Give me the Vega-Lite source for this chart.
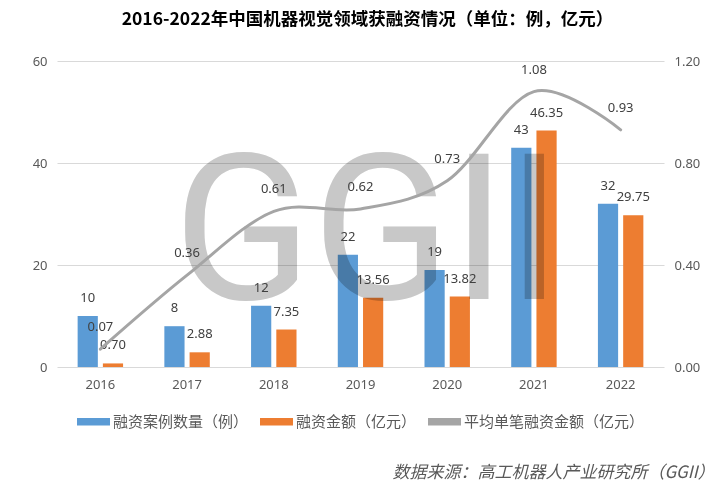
{
  "$schema": "https://vega.github.io/schema/vega-lite/v6.json",
  "background": "white",
  "padding": {"left": 32, "top": 10, "right": 14, "bottom": 5},
  "title": {
    "text": "数据来源：高工机器人产业研究所（GGII）",
    "orient": "bottom",
    "anchor": "end",
    "font": "Noto Sans CJK SC",
    "fontStyle": "italic",
    "fontSize": 17,
    "fontWeight": "normal",
    "color": "#595959",
    "offset": 35,
    "dx": 15
  },
  "datasets": {
    "deals": [
      {"year": "2016", "series": "融资案例数量（例）", "value": 10},
      {"year": "2016", "series": "融资金额（亿元）", "value": 0.70},
      {"year": "2017", "series": "融资案例数量（例）", "value": 8},
      {"year": "2017", "series": "融资金额（亿元）", "value": 2.88},
      {"year": "2018", "series": "融资案例数量（例）", "value": 12},
      {"year": "2018", "series": "融资金额（亿元）", "value": 7.35},
      {"year": "2019", "series": "融资案例数量（例）", "value": 22},
      {"year": "2019", "series": "融资金额（亿元）", "value": 13.56},
      {"year": "2020", "series": "融资案例数量（例）", "value": 19},
      {"year": "2020", "series": "融资金额（亿元）", "value": 13.82},
      {"year": "2021", "series": "融资案例数量（例）", "value": 43},
      {"year": "2021", "series": "融资金额（亿元）", "value": 46.35},
      {"year": "2022", "series": "融资案例数量（例）", "value": 32},
      {"year": "2022", "series": "融资金额（亿元）", "value": 29.75}
    ],
    "avg": [
      {"year": "2016", "avg": 0.07},
      {"year": "2017", "avg": 0.36},
      {"year": "2018", "avg": 0.61},
      {"year": "2019", "avg": 0.62},
      {"year": "2020", "avg": 0.73},
      {"year": "2021", "avg": 1.08},
      {"year": "2022", "avg": 0.93}
    ]
  },
  "vconcat": [
    {
      "width": 607,
      "height": 306,
      "title": {
        "text": "2016-2022年中国机器视觉领域获融资情况（单位：例，亿元）",
        "font": "Noto Sans CJK SC",
        "fontSize": 17.5,
        "fontWeight": "bold",
        "color": "#000000",
        "anchor": "middle",
        "offset": 27,
        "dx": 7
      },
      "layer": [
        {
          "data": {"name": "deals"},
          "layer": [
            {
              "mark": {"type": "bar"},
              "encoding": {
                "x": {"field": "year", "type": "nominal", "scale": {"paddingInner": 0.476, "paddingOuter": 0.238}, "axis": {"title": null, "labelAngle": 0}},
                "xOffset": {"field": "series", "type": "nominal", "scale": {"paddingInner": 0.2, "paddingOuter": 0}, "sort": ["融资案例数量（例）", "融资金额（亿元）"]},
                "y": {"field": "value", "type": "quantitative", "scale": {"domain": [0, 60]}, "axis": {"title": null, "values": [0, 20, 40, 60]}},
                "color": {
                  "field": "series", "type": "nominal",
                  "scale": {"domain": ["融资案例数量（例）", "融资金额（亿元）", "平均单笔融资金额（亿元）"], "range": ["#5B9BD5", "#ED7D31", "#A5A5A5"]},
                  "legend": {"title": null}
                }
              }
            },
            {
              "data": {"values": [{"t": "GGII"}]},
              "mark": {"type": "text", "font": "Roboto", "fontSize": 204, "color": "#C8C8C8", "blend": "multiply", "baseline": "alphabetic", "align": "center", "dx": 7},
              "encoding": {
                "x": {"datum": "2019", "type": "nominal"},
                "y": {"datum": 13.3, "type": "quantitative"},
                "text": {"field": "t"}
              }
            },
            {
              "transform": [{"filter": "datum.series === '融资案例数量（例）'"}],
              "mark": {"type": "text", "font": "Noto Sans", "fontSize": 13, "color": "#404040", "baseline": "middle", "dy": -18},
              "encoding": {
                "x": {"field": "year", "type": "nominal"},
                "xOffset": {"field": "series", "type": "nominal", "sort": ["融资案例数量（例）", "融资金额（亿元）"]},
                "y": {"field": "value", "type": "quantitative", "axis": {"title": null, "values": [0, 20, 40, 60]}},
                "text": {"field": "value", "type": "quantitative", "format": "d"}
              }
            },
            {
              "transform": [{"filter": "datum.series === '融资金额（亿元）'"}],
              "mark": {"type": "text", "font": "Noto Sans", "fontSize": 13, "color": "#404040", "baseline": "middle", "dy": -18},
              "encoding": {
                "x": {"field": "year", "type": "nominal"},
                "xOffset": {"field": "series", "type": "nominal", "sort": ["融资案例数量（例）", "融资金额（亿元）"]},
                "y": {"field": "value", "type": "quantitative", "axis": {"title": null, "values": [0, 20, 40, 60]}},
                "text": {"field": "value", "type": "quantitative", "format": ".2f"}
              }
            }
          ]
        },
        {
          "data": {"name": "avg"},
          "layer": [
            {
              "mark": {"type": "line", "interpolate": "cardinal", "tension": 0, "strokeWidth": 3, "strokeCap": "round"},
              "encoding": {
                "x": {"field": "year", "type": "nominal"},
                "y": {"field": "avg", "type": "quantitative", "scale": {"domain": [0, 1.2]}, "axis": {"title": null, "format": ".2f", "values": [0, 0.4, 0.8, 1.2], "grid": false}},
                "color": {"datum": "平均单笔融资金额（亿元）"}
              }
            },
            {
              "mark": {"type": "text", "font": "Noto Sans", "fontSize": 13, "color": "#404040", "baseline": "middle", "dy": -22},
              "encoding": {
                "x": {"field": "year", "type": "nominal"},
                "y": {"field": "avg", "type": "quantitative", "axis": {"title": null, "format": ".2f", "values": [0, 0.4, 0.8, 1.2], "grid": false}},
                "text": {"field": "avg", "type": "quantitative", "format": ".2f"}
              }
            }
          ]
        }
      ],
      "resolve": {"scale": {"y": "independent"}}
    }
  ],
  "config": {
    "view": {"stroke": null},
    "axis": {
      "labelFont": "Noto Sans",
      "labelFontSize": 13,
      "labelColor": "#595959",
      "domain": false,
      "ticks": false,
      "labelPadding": 10,
      "gridColor": "#D9D9D9",
      "gridWidth": 1
    },
    "axisX": {"grid": false, "labelPadding": 11},
    "axisLeft": {"grid": true},
    "axisRight": {"grid": false},
    "legend": {
      "orient": "bottom",
      "direction": "horizontal",
      "layout": {"bottom": {"anchor": "middle"}},
      "labelFont": "Noto Sans CJK SC",
      "labelFontSize": 15,
      "labelColor": "#595959",
      "labelLimit": 400,
      "labelOffset": 3,
      "columnPadding": 11,
      "symbolType": "M-1,-0.22L1,-0.22L1,0.22L-1,0.22Z",
      "symbolSize": 1089,
      "symbolStrokeWidth": 0,
      "offset": 14
    }
  }
}
